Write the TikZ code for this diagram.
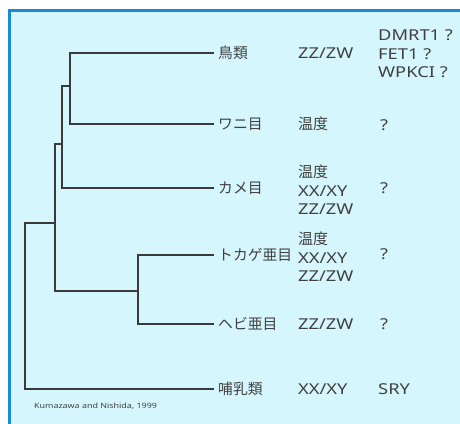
\documentclass[tikz,border=0pt]{standalone}
\usepackage{fontspec}
\setmainfont{Noto Sans}[FakeStretch=1.22]
\newfontfamily\jfont{Noto Sans CJK JP}
\definecolor{bgfill}{HTML}{D6F6FD}
\definecolor{bordblue}{HTML}{1A8AD2}
\definecolor{treeline}{HTML}{3A3A3A}
\definecolor{txt}{HTML}{404040}
\tikzset{
  branch/.style={draw=treeline, line width=1.8pt, line cap=rect},
  taxon/.style={anchor=west, inner sep=0pt, font=\jfont\fontsize{14.8}{18}\selectfont, text=txt},
  info/.style={anchor=west, inner sep=0pt, align=left, font=\fontsize{15}{18.5}\selectfont, text=txt},
  credit/.style={anchor=west, inner sep=0pt, font=\fontsize{7.3}{9}\selectfont, text=txt}
}
\begin{document}
\begin{tikzpicture}[x=1pt,y=-1pt]
\useasboundingbox (0,0) rectangle (460,423);
\fill[bgfill] (9,10) rectangle (462,425);
\draw[bordblue, line width=3pt] (9.5,425) -- (9.5,10.5) -- (462,10.5);

% taxa
\node[taxon] (bird) at (218,53) {鳥類};
\node[taxon] (croc) at (218,124) {ワニ目};
\node[taxon] (turt) at (218,188) {カメ目};
\node[taxon] (liz)  at (218,255) {トカゲ亜目};
\node[taxon] (snk)  at (218,324) {ヘビ亜目};
\node[taxon] (mam)  at (218,389) {哺乳類};

% column 2
\node[info] (c2a) at (298,53) {ZZ/ZW};
\node[info] (c2b) at (298,124) {{\jfont 温度}};
\node[info] (c2c) at (298,190) {{\jfont 温度}\\XX/XY\\ZZ/ZW};
\node[info] (c2d) at (298,257) {{\jfont 温度}\\XX/XY\\ZZ/ZW};
\node[info] (c2e) at (298,324) {ZZ/ZW};
\node[info] (c2f) at (298,389) {XX/XY};

% column 3
\node[info] (c3a) at (378,54) {DMRT1 ?\\FET1 ?\\WPKCI ?};
\node[info] (c3b) at (380,125) {?};
\node[info] (c3c) at (380,188) {?};
\node[info] (c3d) at (380,254) {?};
\node[info] (c3e) at (380,324) {?};
\node[info] (c3f) at (378,389) {SRY};

\node[credit] (cred) at (34,406) {Kumazawa and Nishida, 1999};

% internal nodes
\coordinate (n1) at (70,86);
\coordinate (n2) at (62,144);
\coordinate (n3) at (55,223);
\coordinate (n4) at (138,291);

\draw[branch] ([xshift=-5pt]bird.west) -| (n1) |- ([xshift=-5pt]croc.west);
\draw[branch] (n1) -- (62,86) |- ([xshift=-5pt]turt.west);
\draw[branch] (n2) -- (55,144) -- (n3) -- (55,291) -- (n4);
\draw[branch] ([xshift=-5pt]liz.west) -| (n4) |- ([xshift=-5pt]snk.west);
\draw[branch] (n3) -- (25,223) |- ([xshift=-5pt]mam.west);
\end{tikzpicture}
\end{document}
